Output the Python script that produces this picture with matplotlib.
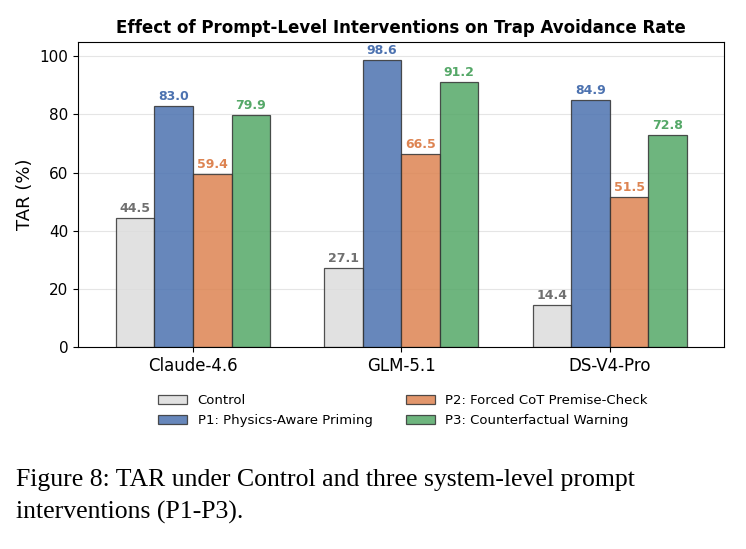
import matplotlib.pyplot as plt
import numpy as np

models = ['Claude-4.6', 'GLM-5.1', 'DS-V4-Pro']
series = ['Control', 'P1: Physics-Aware Priming', 'P2: Forced CoT Premise-Check', 'P3: Counterfactual Warning']
control = [44.5, 27.1, 14.4]
p1 = [83.0, 98.6, 84.9]
p2 = [59.4, 66.5, 51.5]
p3 = [79.9, 91.2, 72.8]
colors = ['#dcdcdc', '#4c72b0', '#dd8452', '#55a868']
label_colors = ['#707070', '#4c72b0', '#dd8452', '#55a868']

fig = plt.figure(figsize=(7.46, 5.49), dpi=100)
ax = fig.add_axes([0.105, 0.368, 0.866, 0.556])

x = np.arange(len(models))
w = 0.185
for i, vals in enumerate([control, p1, p2, p3]):
    pos = x + (i - 1.5) * w
    bars = ax.bar(pos, vals, w, color=colors[i], alpha=0.85, edgecolor='#333333',
                  linewidth=0.9, label=series[i])
    for b, v in zip(bars, vals):
        ax.text(b.get_x() + b.get_width() / 2, v + 1, f'{v:.1f}', ha='center', va='bottom',
                fontsize=9, fontweight='bold', color=label_colors[i])

ax.set_xticks(x)
ax.set_xticklabels(models, fontsize=12)
ax.set_ylabel('TAR (%)', fontsize=13)
ax.set_ylim(0, 105)
ax.set_xlim(-0.55, 2.55)
ax.tick_params(axis='y', labelsize=11)
ax.yaxis.grid(True, color='#e5e5e5', linewidth=0.8)
ax.set_axisbelow(True)
ax.set_title('Effect of Prompt-Level Interventions on Trap Avoidance Rate',
             fontsize=12, fontweight='bold')

fig.legend(ncol=2, frameon=False, loc='center', bbox_to_anchor=(0.54, 0.252),
           fontsize=9.5, columnspacing=2.5, handlelength=2.2)

fig.text(0.022, 0.115, 'Figure 8: TAR under Control and three system-level prompt',
         fontsize=18.5, family='Liberation Serif')
fig.text(0.022, 0.055, 'interventions (P1-P3).', fontsize=18.5, family='Liberation Serif')

fig.savefig('out.png')
